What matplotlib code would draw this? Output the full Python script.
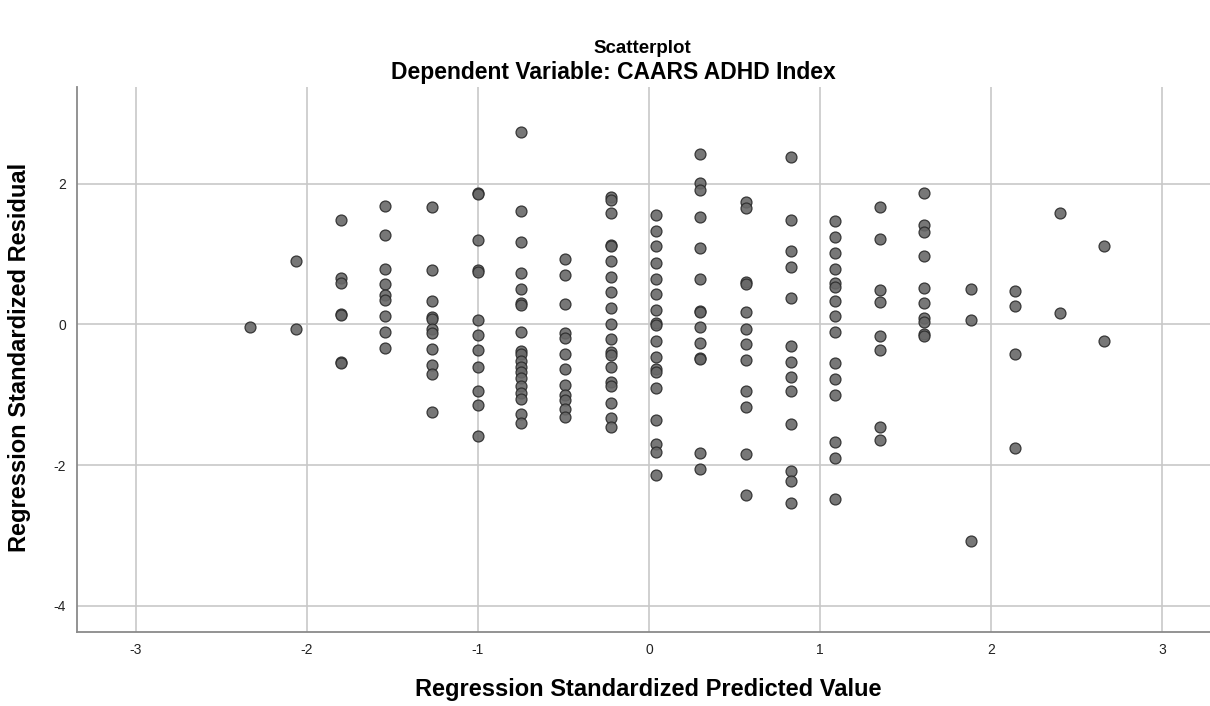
"""Residual scatterplot: standardized predicted value vs standardized residual."""

import matplotlib
matplotlib.use("Agg")
import matplotlib.pyplot as plt

plt.rcParams["font.family"] = ["Liberation Sans", "DejaVu Sans"]
plt.rcParams["axes.unicode_minus"] = False

# standardized predicted value for each column of points
col_x = [-2.33, -2.06, -1.80, -1.54, -1.27, -1.00, -0.75, -0.49, -0.22, 0.04,
         0.30, 0.57, 0.83, 1.09, 1.35, 1.61, 1.88, 2.14, 2.40, 2.66]

# standardized residuals read per column
col_resid = [
    [-0.04],
    [0.90, -0.06],
    [1.49, 0.66, 0.59, 0.15, 0.13, -0.53, -0.55],
    [1.68, 1.27, 0.79, 0.57, 0.42, 0.35, 0.12, -0.10, -0.33],
    [1.67, 0.77, 0.33, 0.11, 0.08, -0.06, -0.12, -0.35, -0.57, -0.70, -1.25],
    [1.87, 1.86, 1.20, 0.77, 0.75, 0.07, -0.15, -0.37, -0.60, -0.94, -1.15, -1.58],
    [2.74, 1.62, 1.17, 0.73, 0.50, 0.31, 0.27, -0.11, -0.38, -0.42, -0.52,
     -0.61, -0.68, -0.76, -0.87, -0.98, -1.06, -1.28, -1.40],
    [0.93, 0.71, 0.29, -0.12, -0.19, -0.42, -0.64, -0.86, -1.00, -1.08,
     -1.20, -1.31],
    [1.82, 1.77, 1.58, 1.13, 1.11, 0.90, 0.68, 0.46, 0.23, 0.01, -0.21,
     -0.39, -0.44, -0.61, -0.82, -0.88, -1.12, -1.33, -1.46],
    [1.56, 1.33, 1.11, 0.88, 0.65, 0.44, 0.21, 0.02, -0.01, -0.24, -0.46,
     -0.63, -0.68, -0.91, -1.36, -1.70, -1.81, -2.14],
    [2.43, 2.01, 1.91, 1.53, 1.09, 0.64, 0.19, 0.18, -0.04, -0.26, -0.47,
     -0.49, -1.83, -2.06],
    [1.74, 1.65, 0.61, 0.58, 0.18, -0.06, -0.28, -0.50, -0.95, -1.18,
     -1.84, -2.42],
    [2.38, 1.49, 1.04, 0.82, 0.37, -0.30, -0.53, -0.75, -0.94, -1.42,
     -2.09, -2.22, -2.54],
    [1.47, 1.24, 1.02, 0.79, 0.59, 0.53, 0.34, 0.12, -0.10, -0.55, -0.77,
     -1.00, -1.67, -1.90, -2.48],
    [1.67, 1.22, 0.49, 0.32, -0.16, -0.36, -1.46, -1.65],
    [1.87, 1.42, 1.32, 0.97, 0.52, 0.30, 0.09, 0.03, -0.14, -0.16],
    [0.50, 0.06, -3.08],
    [0.48, 0.26, -0.42, -1.76],
    [1.58, 0.16],
    [1.11, -0.23],
]

x_ticks = [-3, -2, -1, 0, 1, 2, 3]
y_ticks = [-4, -2, 0, 2]

xs = [x for x, col in zip(col_x, col_resid) for _ in col]
ys = [r for col in col_resid for r in col]

fig = plt.figure(figsize=(12.1, 7.06), dpi=100)
ax = fig.add_axes([0.0636, 0.1048, 0.9364, 0.772])

ax.set_xlim(-3.343, 3.279)
ax.set_ylim(-4.374, 3.378)
ax.set_xticks(x_ticks)
ax.set_yticks(y_ticks)
ax.grid(True, color="#c8c8c8", linewidth=1.2)
ax.set_axisbelow(True)

ax.scatter(xs, ys, s=62, facecolor="#686868", edgecolor="#2a2a2a",
           linewidth=0.9, alpha=0.9, zorder=3)

for side in ("top", "right"):
    ax.spines[side].set_visible(False)
for side in ("left", "bottom"):
    ax.spines[side].set_color("#8a8a8a")
    ax.spines[side].set_linewidth(1.3)

ax.tick_params(length=0, labelsize=10, pad=8, colors="#222222")

# axis titles placed as figure text so they sit where the reference has them
fig.text(0.536, 0.0227, "Regression Standardized Predicted Value",
         ha="center", va="center", fontsize=17, fontweight="bold")
fig.text(0.0165, 0.494, "Regression Standardized Residual", rotation=90,
         ha="center", va="center", fontsize=17, fontweight="bold")

fig.text(0.531, 0.932, "Scatterplot", ha="center", va="center",
         fontsize=13.5, fontweight="bold")
fig.text(0.507, 0.897, "Dependent Variable: CAARS ADHD Index", ha="center",
         va="center", fontsize=16.5, fontweight="bold")

fig.savefig("out.png", dpi=100)
